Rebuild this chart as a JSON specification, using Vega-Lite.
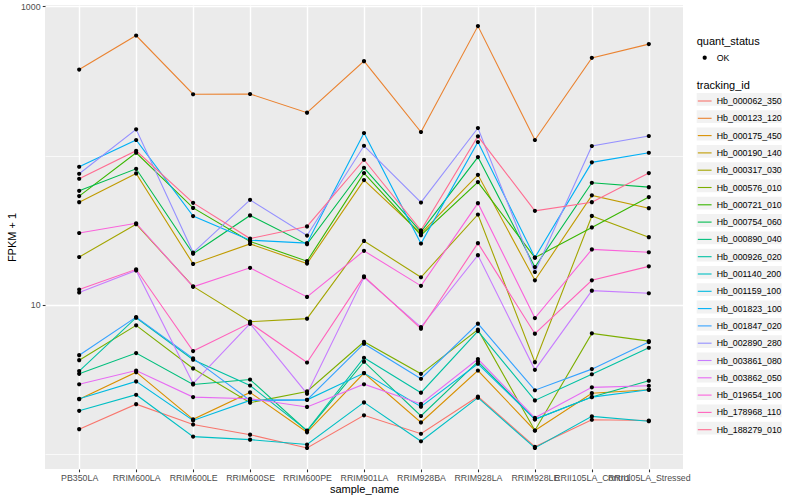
{
  "$schema": "https://vega.github.io/schema/vega-lite/v6.json",
  "width": 638,
  "height": 464,
  "autosize": {"type": "none"},
  "padding": {"left": 45, "top": 5, "right": 117, "bottom": 31},
  "background": "white",
  "config": {
    "font": "Liberation Sans",
    "view": {"fill": "#EBEBEB", "stroke": null},
    "axis": {
      "domain": false,
      "gridColor": "white",
      "gridWidth": 1.4,
      "tickColor": "#333333",
      "tickWidth": 1.07,
      "tickSize": 2.75,
      "labelFont": "Liberation Sans",
      "labelFontSize": 8.8,
      "labelColor": "#4D4D4D",
      "labelPadding": 2.2,
      "titleFont": "Liberation Sans",
      "titleFontSize": 11,
      "titleFontWeight": "normal",
      "titleColor": "black",
      "titlePadding": 2.75
    },
    "legend": {
      "orient": "none",
      "padding": 0,
      "rowPadding": 1,
      "titlePadding": 2.5,
      "labelOffset": 4,
      "symbolSize": 210,
      "titleFont": "Liberation Sans",
      "titleFontSize": 11,
      "titleFontWeight": "normal",
      "titleColor": "black",
      "labelFont": "Liberation Sans",
      "labelFontSize": 8.8,
      "labelColor": "black",
      "symbolOpacity": 1
    }
  },
  "data": {"values": [
    {"sample_name":"PB350LA","tracking_id":"Hb_000062_350","fpkm":1.47,"quant_status":"OK"},
    {"sample_name":"RRIM600LA","tracking_id":"Hb_000062_350","fpkm":2.16,"quant_status":"OK"},
    {"sample_name":"RRIM600LE","tracking_id":"Hb_000062_350","fpkm":1.58,"quant_status":"OK"},
    {"sample_name":"RRIM600SE","tracking_id":"Hb_000062_350","fpkm":1.35,"quant_status":"OK"},
    {"sample_name":"RRIM600PE","tracking_id":"Hb_000062_350","fpkm":1.10,"quant_status":"OK"},
    {"sample_name":"RRIM901LA","tracking_id":"Hb_000062_350","fpkm":1.82,"quant_status":"OK"},
    {"sample_name":"RRIM928BA","tracking_id":"Hb_000062_350","fpkm":1.37,"quant_status":"OK"},
    {"sample_name":"RRIM928LA","tracking_id":"Hb_000062_350","fpkm":2.43,"quant_status":"OK"},
    {"sample_name":"RRIM928LE","tracking_id":"Hb_000062_350","fpkm":1.12,"quant_status":"OK"},
    {"sample_name":"RRII105LA_Control","tracking_id":"Hb_000062_350","fpkm":1.70,"quant_status":"OK"},
    {"sample_name":"RRII105LA_Stressed","tracking_id":"Hb_000062_350","fpkm":1.68,"quant_status":"OK"},

    {"sample_name":"PB350LA","tracking_id":"Hb_000123_120","fpkm":376.5,"quant_status":"OK"},
    {"sample_name":"RRIM600LA","tracking_id":"Hb_000123_120","fpkm":636.8,"quant_status":"OK"},
    {"sample_name":"RRIM600LE","tracking_id":"Hb_000123_120","fpkm":257.5,"quant_status":"OK"},
    {"sample_name":"RRIM600SE","tracking_id":"Hb_000123_120","fpkm":258.5,"quant_status":"OK"},
    {"sample_name":"RRIM600PE","tracking_id":"Hb_000123_120","fpkm":193.7,"quant_status":"OK"},
    {"sample_name":"RRIM901LA","tracking_id":"Hb_000123_120","fpkm":428.7,"quant_status":"OK"},
    {"sample_name":"RRIM928BA","tracking_id":"Hb_000123_120","fpkm":143.8,"quant_status":"OK"},
    {"sample_name":"RRIM928LA","tracking_id":"Hb_000123_120","fpkm":736.4,"quant_status":"OK"},
    {"sample_name":"RRIM928LE","tracking_id":"Hb_000123_120","fpkm":127.1,"quant_status":"OK"},
    {"sample_name":"RRII105LA_Control","tracking_id":"Hb_000123_120","fpkm":451.1,"quant_status":"OK"},
    {"sample_name":"RRII105LA_Stressed","tracking_id":"Hb_000123_120","fpkm":557.6,"quant_status":"OK"},

    {"sample_name":"PB350LA","tracking_id":"Hb_000175_450","fpkm":2.33,"quant_status":"OK"},
    {"sample_name":"RRIM600LA","tracking_id":"Hb_000175_450","fpkm":3.54,"quant_status":"OK"},
    {"sample_name":"RRIM600LE","tracking_id":"Hb_000175_450","fpkm":1.71,"quant_status":"OK"},
    {"sample_name":"RRIM600SE","tracking_id":"Hb_000175_450","fpkm":2.59,"quant_status":"OK"},
    {"sample_name":"RRIM600PE","tracking_id":"Hb_000175_450","fpkm":1.40,"quant_status":"OK"},
    {"sample_name":"RRIM901LA","tracking_id":"Hb_000175_450","fpkm":3.49,"quant_status":"OK"},
    {"sample_name":"RRIM928BA","tracking_id":"Hb_000175_450","fpkm":1.63,"quant_status":"OK"},
    {"sample_name":"RRIM928LA","tracking_id":"Hb_000175_450","fpkm":3.63,"quant_status":"OK"},
    {"sample_name":"RRIM928LE","tracking_id":"Hb_000175_450","fpkm":1.44,"quant_status":"OK"},
    {"sample_name":"RRII105LA_Control","tracking_id":"Hb_000175_450","fpkm":2.56,"quant_status":"OK"},
    {"sample_name":"RRII105LA_Stressed","tracking_id":"Hb_000175_450","fpkm":2.70,"quant_status":"OK"},

    {"sample_name":"PB350LA","tracking_id":"Hb_000190_140","fpkm":48.7,"quant_status":"OK"},
    {"sample_name":"RRIM600LA","tracking_id":"Hb_000190_140","fpkm":75.9,"quant_status":"OK"},
    {"sample_name":"RRIM600LE","tracking_id":"Hb_000190_140","fpkm":18.8,"quant_status":"OK"},
    {"sample_name":"RRIM600SE","tracking_id":"Hb_000190_140","fpkm":25.6,"quant_status":"OK"},
    {"sample_name":"RRIM600PE","tracking_id":"Hb_000190_140","fpkm":18.9,"quant_status":"OK"},
    {"sample_name":"RRIM901LA","tracking_id":"Hb_000190_140","fpkm":68.5,"quant_status":"OK"},
    {"sample_name":"RRIM928BA","tracking_id":"Hb_000190_140","fpkm":30.1,"quant_status":"OK"},
    {"sample_name":"RRIM928LA","tracking_id":"Hb_000190_140","fpkm":74.3,"quant_status":"OK"},
    {"sample_name":"RRIM928LE","tracking_id":"Hb_000190_140","fpkm":14.6,"quant_status":"OK"},
    {"sample_name":"RRII105LA_Control","tracking_id":"Hb_000190_140","fpkm":54.1,"quant_status":"OK"},
    {"sample_name":"RRII105LA_Stressed","tracking_id":"Hb_000190_140","fpkm":44.4,"quant_status":"OK"},

    {"sample_name":"PB350LA","tracking_id":"Hb_000317_030","fpkm":20.9,"quant_status":"OK"},
    {"sample_name":"RRIM600LA","tracking_id":"Hb_000317_030","fpkm":34.7,"quant_status":"OK"},
    {"sample_name":"RRIM600LE","tracking_id":"Hb_000317_030","fpkm":13.3,"quant_status":"OK"},
    {"sample_name":"RRIM600SE","tracking_id":"Hb_000317_030","fpkm":7.71,"quant_status":"OK"},
    {"sample_name":"RRIM600PE","tracking_id":"Hb_000317_030","fpkm":8.08,"quant_status":"OK"},
    {"sample_name":"RRIM901LA","tracking_id":"Hb_000317_030","fpkm":26.8,"quant_status":"OK"},
    {"sample_name":"RRIM928BA","tracking_id":"Hb_000317_030","fpkm":15.3,"quant_status":"OK"},
    {"sample_name":"RRIM928LA","tracking_id":"Hb_000317_030","fpkm":40.3,"quant_status":"OK"},
    {"sample_name":"RRIM928LE","tracking_id":"Hb_000317_030","fpkm":4.13,"quant_status":"OK"},
    {"sample_name":"RRII105LA_Control","tracking_id":"Hb_000317_030","fpkm":39.4,"quant_status":"OK"},
    {"sample_name":"RRII105LA_Stressed","tracking_id":"Hb_000317_030","fpkm":28.4,"quant_status":"OK"},

    {"sample_name":"PB350LA","tracking_id":"Hb_000576_010","fpkm":4.26,"quant_status":"OK"},
    {"sample_name":"RRIM600LA","tracking_id":"Hb_000576_010","fpkm":7.29,"quant_status":"OK"},
    {"sample_name":"RRIM600LE","tracking_id":"Hb_000576_010","fpkm":3.75,"quant_status":"OK"},
    {"sample_name":"RRIM600SE","tracking_id":"Hb_000576_010","fpkm":2.21,"quant_status":"OK"},
    {"sample_name":"RRIM600PE","tracking_id":"Hb_000576_010","fpkm":2.63,"quant_status":"OK"},
    {"sample_name":"RRIM901LA","tracking_id":"Hb_000576_010","fpkm":5.66,"quant_status":"OK"},
    {"sample_name":"RRIM928BA","tracking_id":"Hb_000576_010","fpkm":3.45,"quant_status":"OK"},
    {"sample_name":"RRIM928LA","tracking_id":"Hb_000576_010","fpkm":6.82,"quant_status":"OK"},
    {"sample_name":"RRIM928LE","tracking_id":"Hb_000576_010","fpkm":1.44,"quant_status":"OK"},
    {"sample_name":"RRII105LA_Control","tracking_id":"Hb_000576_010","fpkm":6.44,"quant_status":"OK"},
    {"sample_name":"RRII105LA_Stressed","tracking_id":"Hb_000576_010","fpkm":5.71,"quant_status":"OK"},

    {"sample_name":"PB350LA","tracking_id":"Hb_000721_010","fpkm":53.5,"quant_status":"OK"},
    {"sample_name":"RRIM600LA","tracking_id":"Hb_000721_010","fpkm":104.4,"quant_status":"OK"},
    {"sample_name":"RRIM600LE","tracking_id":"Hb_000721_010","fpkm":44.6,"quant_status":"OK"},
    {"sample_name":"RRIM600SE","tracking_id":"Hb_000721_010","fpkm":26.6,"quant_status":"OK"},
    {"sample_name":"RRIM600PE","tracking_id":"Hb_000721_010","fpkm":19.6,"quant_status":"OK"},
    {"sample_name":"RRIM901LA","tracking_id":"Hb_000721_010","fpkm":76.3,"quant_status":"OK"},
    {"sample_name":"RRIM928BA","tracking_id":"Hb_000721_010","fpkm":29.3,"quant_status":"OK"},
    {"sample_name":"RRIM928LA","tracking_id":"Hb_000721_010","fpkm":66.4,"quant_status":"OK"},
    {"sample_name":"RRIM928LE","tracking_id":"Hb_000721_010","fpkm":20.7,"quant_status":"OK"},
    {"sample_name":"RRII105LA_Control","tracking_id":"Hb_000721_010","fpkm":33.0,"quant_status":"OK"},
    {"sample_name":"RRII105LA_Stressed","tracking_id":"Hb_000721_010","fpkm":52.7,"quant_status":"OK"},

    {"sample_name":"PB350LA","tracking_id":"Hb_000754_060","fpkm":58.0,"quant_status":"OK"},
    {"sample_name":"RRIM600LA","tracking_id":"Hb_000754_060","fpkm":81.5,"quant_status":"OK"},
    {"sample_name":"RRIM600LE","tracking_id":"Hb_000754_060","fpkm":22.0,"quant_status":"OK"},
    {"sample_name":"RRIM600SE","tracking_id":"Hb_000754_060","fpkm":39.7,"quant_status":"OK"},
    {"sample_name":"RRIM600PE","tracking_id":"Hb_000754_060","fpkm":25.5,"quant_status":"OK"},
    {"sample_name":"RRIM901LA","tracking_id":"Hb_000754_060","fpkm":82.8,"quant_status":"OK"},
    {"sample_name":"RRIM928BA","tracking_id":"Hb_000754_060","fpkm":30.8,"quant_status":"OK"},
    {"sample_name":"RRIM928LA","tracking_id":"Hb_000754_060","fpkm":97.7,"quant_status":"OK"},
    {"sample_name":"RRIM928LE","tracking_id":"Hb_000754_060","fpkm":17.9,"quant_status":"OK"},
    {"sample_name":"RRII105LA_Control","tracking_id":"Hb_000754_060","fpkm":65.7,"quant_status":"OK"},
    {"sample_name":"RRII105LA_Stressed","tracking_id":"Hb_000754_060","fpkm":61.4,"quant_status":"OK"},

    {"sample_name":"PB350LA","tracking_id":"Hb_000890_040","fpkm":3.45,"quant_status":"OK"},
    {"sample_name":"RRIM600LA","tracking_id":"Hb_000890_040","fpkm":4.75,"quant_status":"OK"},
    {"sample_name":"RRIM600LE","tracking_id":"Hb_000890_040","fpkm":2.93,"quant_status":"OK"},
    {"sample_name":"RRIM600SE","tracking_id":"Hb_000890_040","fpkm":3.16,"quant_status":"OK"},
    {"sample_name":"RRIM600PE","tracking_id":"Hb_000890_040","fpkm":1.43,"quant_status":"OK"},
    {"sample_name":"RRIM901LA","tracking_id":"Hb_000890_040","fpkm":4.16,"quant_status":"OK"},
    {"sample_name":"RRIM928BA","tracking_id":"Hb_000890_040","fpkm":1.80,"quant_status":"OK"},
    {"sample_name":"RRIM928LA","tracking_id":"Hb_000890_040","fpkm":4.16,"quant_status":"OK"},
    {"sample_name":"RRIM928LE","tracking_id":"Hb_000890_040","fpkm":1.71,"quant_status":"OK"},
    {"sample_name":"RRII105LA_Control","tracking_id":"Hb_000890_040","fpkm":2.41,"quant_status":"OK"},
    {"sample_name":"RRII105LA_Stressed","tracking_id":"Hb_000890_040","fpkm":3.10,"quant_status":"OK"},

    {"sample_name":"PB350LA","tracking_id":"Hb_000926_020","fpkm":3.60,"quant_status":"OK"},
    {"sample_name":"RRIM600LA","tracking_id":"Hb_000926_020","fpkm":8.20,"quant_status":"OK"},
    {"sample_name":"RRIM600LE","tracking_id":"Hb_000926_020","fpkm":4.29,"quant_status":"OK"},
    {"sample_name":"RRIM600SE","tracking_id":"Hb_000926_020","fpkm":2.88,"quant_status":"OK"},
    {"sample_name":"RRIM600PE","tracking_id":"Hb_000926_020","fpkm":1.44,"quant_status":"OK"},
    {"sample_name":"RRIM901LA","tracking_id":"Hb_000926_020","fpkm":4.42,"quant_status":"OK"},
    {"sample_name":"RRIM928BA","tracking_id":"Hb_000926_020","fpkm":2.58,"quant_status":"OK"},
    {"sample_name":"RRIM928LA","tracking_id":"Hb_000926_020","fpkm":6.67,"quant_status":"OK"},
    {"sample_name":"RRIM928LE","tracking_id":"Hb_000926_020","fpkm":2.29,"quant_status":"OK"},
    {"sample_name":"RRII105LA_Control","tracking_id":"Hb_000926_020","fpkm":3.43,"quant_status":"OK"},
    {"sample_name":"RRII105LA_Stressed","tracking_id":"Hb_000926_020","fpkm":5.16,"quant_status":"OK"},

    {"sample_name":"PB350LA","tracking_id":"Hb_001140_200","fpkm":1.95,"quant_status":"OK"},
    {"sample_name":"RRIM600LA","tracking_id":"Hb_001140_200","fpkm":2.50,"quant_status":"OK"},
    {"sample_name":"RRIM600LE","tracking_id":"Hb_001140_200","fpkm":1.31,"quant_status":"OK"},
    {"sample_name":"RRIM600SE","tracking_id":"Hb_001140_200","fpkm":1.25,"quant_status":"OK"},
    {"sample_name":"RRIM600PE","tracking_id":"Hb_001140_200","fpkm":1.16,"quant_status":"OK"},
    {"sample_name":"RRIM901LA","tracking_id":"Hb_001140_200","fpkm":2.22,"quant_status":"OK"},
    {"sample_name":"RRIM928BA","tracking_id":"Hb_001140_200","fpkm":1.22,"quant_status":"OK"},
    {"sample_name":"RRIM928LA","tracking_id":"Hb_001140_200","fpkm":2.39,"quant_status":"OK"},
    {"sample_name":"RRIM928LE","tracking_id":"Hb_001140_200","fpkm":1.10,"quant_status":"OK"},
    {"sample_name":"RRII105LA_Control","tracking_id":"Hb_001140_200","fpkm":1.79,"quant_status":"OK"},
    {"sample_name":"RRII105LA_Stressed","tracking_id":"Hb_001140_200","fpkm":1.66,"quant_status":"OK"},

    {"sample_name":"PB350LA","tracking_id":"Hb_001159_100","fpkm":2.35,"quant_status":"OK"},
    {"sample_name":"RRIM600LA","tracking_id":"Hb_001159_100","fpkm":3.07,"quant_status":"OK"},
    {"sample_name":"RRIM600LE","tracking_id":"Hb_001159_100","fpkm":1.68,"quant_status":"OK"},
    {"sample_name":"RRIM600SE","tracking_id":"Hb_001159_100","fpkm":2.29,"quant_status":"OK"},
    {"sample_name":"RRIM600PE","tracking_id":"Hb_001159_100","fpkm":2.31,"quant_status":"OK"},
    {"sample_name":"RRIM901LA","tracking_id":"Hb_001159_100","fpkm":3.49,"quant_status":"OK"},
    {"sample_name":"RRIM928BA","tracking_id":"Hb_001159_100","fpkm":2.08,"quant_status":"OK"},
    {"sample_name":"RRIM928LA","tracking_id":"Hb_001159_100","fpkm":4.03,"quant_status":"OK"},
    {"sample_name":"RRIM928LE","tracking_id":"Hb_001159_100","fpkm":1.71,"quant_status":"OK"},
    {"sample_name":"RRII105LA_Control","tracking_id":"Hb_001159_100","fpkm":2.41,"quant_status":"OK"},
    {"sample_name":"RRII105LA_Stressed","tracking_id":"Hb_001159_100","fpkm":2.70,"quant_status":"OK"},

    {"sample_name":"PB350LA","tracking_id":"Hb_001823_100","fpkm":84.1,"quant_status":"OK"},
    {"sample_name":"RRIM600LA","tracking_id":"Hb_001823_100","fpkm":127.1,"quant_status":"OK"},
    {"sample_name":"RRIM600LE","tracking_id":"Hb_001823_100","fpkm":39.3,"quant_status":"OK"},
    {"sample_name":"RRIM600SE","tracking_id":"Hb_001823_100","fpkm":27.1,"quant_status":"OK"},
    {"sample_name":"RRIM600PE","tracking_id":"Hb_001823_100","fpkm":25.9,"quant_status":"OK"},
    {"sample_name":"RRIM901LA","tracking_id":"Hb_001823_100","fpkm":141.6,"quant_status":"OK"},
    {"sample_name":"RRIM928BA","tracking_id":"Hb_001823_100","fpkm":25.75,"quant_status":"OK"},
    {"sample_name":"RRIM928LA","tracking_id":"Hb_001823_100","fpkm":123.2,"quant_status":"OK"},
    {"sample_name":"RRIM928LE","tracking_id":"Hb_001823_100","fpkm":20.74,"quant_status":"OK"},
    {"sample_name":"RRII105LA_Control","tracking_id":"Hb_001823_100","fpkm":90.0,"quant_status":"OK"},
    {"sample_name":"RRII105LA_Stressed","tracking_id":"Hb_001823_100","fpkm":104.4,"quant_status":"OK"},

    {"sample_name":"PB350LA","tracking_id":"Hb_001847_020","fpkm":4.60,"quant_status":"OK"},
    {"sample_name":"RRIM600LA","tracking_id":"Hb_001847_020","fpkm":8.28,"quant_status":"OK"},
    {"sample_name":"RRIM600LE","tracking_id":"Hb_001847_020","fpkm":4.38,"quant_status":"OK"},
    {"sample_name":"RRIM600SE","tracking_id":"Hb_001847_020","fpkm":2.29,"quant_status":"OK"},
    {"sample_name":"RRIM600PE","tracking_id":"Hb_001847_020","fpkm":2.31,"quant_status":"OK"},
    {"sample_name":"RRIM901LA","tracking_id":"Hb_001847_020","fpkm":5.49,"quant_status":"OK"},
    {"sample_name":"RRIM928BA","tracking_id":"Hb_001847_020","fpkm":3.20,"quant_status":"OK"},
    {"sample_name":"RRIM928LA","tracking_id":"Hb_001847_020","fpkm":7.48,"quant_status":"OK"},
    {"sample_name":"RRIM928LE","tracking_id":"Hb_001847_020","fpkm":2.68,"quant_status":"OK"},
    {"sample_name":"RRII105LA_Control","tracking_id":"Hb_001847_020","fpkm":3.71,"quant_status":"OK"},
    {"sample_name":"RRII105LA_Stressed","tracking_id":"Hb_001847_020","fpkm":5.63,"quant_status":"OK"},

    {"sample_name":"PB350LA","tracking_id":"Hb_002890_280","fpkm":75.5,"quant_status":"OK"},
    {"sample_name":"RRIM600LA","tracking_id":"Hb_002890_280","fpkm":149.9,"quant_status":"OK"},
    {"sample_name":"RRIM600LE","tracking_id":"Hb_002890_280","fpkm":22.4,"quant_status":"OK"},
    {"sample_name":"RRIM600SE","tracking_id":"Hb_002890_280","fpkm":50.5,"quant_status":"OK"},
    {"sample_name":"RRIM600PE","tracking_id":"Hb_002890_280","fpkm":29.1,"quant_status":"OK"},
    {"sample_name":"RRIM901LA","tracking_id":"Hb_002890_280","fpkm":116.3,"quant_status":"OK"},
    {"sample_name":"RRIM928BA","tracking_id":"Hb_002890_280","fpkm":48.5,"quant_status":"OK"},
    {"sample_name":"RRIM928LA","tracking_id":"Hb_002890_280","fpkm":152.9,"quant_status":"OK"},
    {"sample_name":"RRIM928LE","tracking_id":"Hb_002890_280","fpkm":16.6,"quant_status":"OK"},
    {"sample_name":"RRII105LA_Control","tracking_id":"Hb_002890_280","fpkm":115.8,"quant_status":"OK"},
    {"sample_name":"RRII105LA_Stressed","tracking_id":"Hb_002890_280","fpkm":135.2,"quant_status":"OK"},

    {"sample_name":"PB350LA","tracking_id":"Hb_003861_080","fpkm":12.1,"quant_status":"OK"},
    {"sample_name":"RRIM600LA","tracking_id":"Hb_003861_080","fpkm":17.0,"quant_status":"OK"},
    {"sample_name":"RRIM600LE","tracking_id":"Hb_003861_080","fpkm":2.97,"quant_status":"OK"},
    {"sample_name":"RRIM600SE","tracking_id":"Hb_003861_080","fpkm":7.48,"quant_status":"OK"},
    {"sample_name":"RRIM600PE","tracking_id":"Hb_003861_080","fpkm":2.54,"quant_status":"OK"},
    {"sample_name":"RRIM901LA","tracking_id":"Hb_003861_080","fpkm":15.3,"quant_status":"OK"},
    {"sample_name":"RRIM928BA","tracking_id":"Hb_003861_080","fpkm":7.10,"quant_status":"OK"},
    {"sample_name":"RRIM928LA","tracking_id":"Hb_003861_080","fpkm":21.5,"quant_status":"OK"},
    {"sample_name":"RRIM928LE","tracking_id":"Hb_003861_080","fpkm":3.67,"quant_status":"OK"},
    {"sample_name":"RRII105LA_Control","tracking_id":"Hb_003861_080","fpkm":12.45,"quant_status":"OK"},
    {"sample_name":"RRII105LA_Stressed","tracking_id":"Hb_003861_080","fpkm":11.95,"quant_status":"OK"},

    {"sample_name":"PB350LA","tracking_id":"Hb_003862_050","fpkm":2.94,"quant_status":"OK"},
    {"sample_name":"RRIM600LA","tracking_id":"Hb_003862_050","fpkm":3.63,"quant_status":"OK"},
    {"sample_name":"RRIM600LE","tracking_id":"Hb_003862_050","fpkm":2.41,"quant_status":"OK"},
    {"sample_name":"RRIM600SE","tracking_id":"Hb_003862_050","fpkm":2.35,"quant_status":"OK"},
    {"sample_name":"RRIM600PE","tracking_id":"Hb_003862_050","fpkm":2.07,"quant_status":"OK"},
    {"sample_name":"RRIM901LA","tracking_id":"Hb_003862_050","fpkm":2.94,"quant_status":"OK"},
    {"sample_name":"RRIM928BA","tracking_id":"Hb_003862_050","fpkm":2.17,"quant_status":"OK"},
    {"sample_name":"RRIM928LA","tracking_id":"Hb_003862_050","fpkm":4.33,"quant_status":"OK"},
    {"sample_name":"RRIM928LE","tracking_id":"Hb_003862_050","fpkm":1.75,"quant_status":"OK"},
    {"sample_name":"RRII105LA_Control","tracking_id":"Hb_003862_050","fpkm":2.80,"quant_status":"OK"},
    {"sample_name":"RRII105LA_Stressed","tracking_id":"Hb_003862_050","fpkm":2.87,"quant_status":"OK"},

    {"sample_name":"PB350LA","tracking_id":"Hb_019654_100","fpkm":30.3,"quant_status":"OK"},
    {"sample_name":"RRIM600LA","tracking_id":"Hb_019654_100","fpkm":35.2,"quant_status":"OK"},
    {"sample_name":"RRIM600LE","tracking_id":"Hb_019654_100","fpkm":13.2,"quant_status":"OK"},
    {"sample_name":"RRIM600SE","tracking_id":"Hb_019654_100","fpkm":17.7,"quant_status":"OK"},
    {"sample_name":"RRIM600PE","tracking_id":"Hb_019654_100","fpkm":11.3,"quant_status":"OK"},
    {"sample_name":"RRIM901LA","tracking_id":"Hb_019654_100","fpkm":23.0,"quant_status":"OK"},
    {"sample_name":"RRIM928BA","tracking_id":"Hb_019654_100","fpkm":13.4,"quant_status":"OK"},
    {"sample_name":"RRIM928LA","tracking_id":"Hb_019654_100","fpkm":48.0,"quant_status":"OK"},
    {"sample_name":"RRIM928LE","tracking_id":"Hb_019654_100","fpkm":8.15,"quant_status":"OK"},
    {"sample_name":"RRII105LA_Control","tracking_id":"Hb_019654_100","fpkm":23.5,"quant_status":"OK"},
    {"sample_name":"RRII105LA_Stressed","tracking_id":"Hb_019654_100","fpkm":22.5,"quant_status":"OK"},

    {"sample_name":"PB350LA","tracking_id":"Hb_178968_110","fpkm":12.65,"quant_status":"OK"},
    {"sample_name":"RRIM600LA","tracking_id":"Hb_178968_110","fpkm":17.3,"quant_status":"OK"},
    {"sample_name":"RRIM600LE","tracking_id":"Hb_178968_110","fpkm":4.90,"quant_status":"OK"},
    {"sample_name":"RRIM600SE","tracking_id":"Hb_178968_110","fpkm":7.55,"quant_status":"OK"},
    {"sample_name":"RRIM600PE","tracking_id":"Hb_178968_110","fpkm":4.11,"quant_status":"OK"},
    {"sample_name":"RRIM901LA","tracking_id":"Hb_178968_110","fpkm":15.5,"quant_status":"OK"},
    {"sample_name":"RRIM928BA","tracking_id":"Hb_178968_110","fpkm":6.92,"quant_status":"OK"},
    {"sample_name":"RRIM928LA","tracking_id":"Hb_178968_110","fpkm":25.9,"quant_status":"OK"},
    {"sample_name":"RRIM928LE","tracking_id":"Hb_178968_110","fpkm":6.41,"quant_status":"OK"},
    {"sample_name":"RRII105LA_Control","tracking_id":"Hb_178968_110","fpkm":14.6,"quant_status":"OK"},
    {"sample_name":"RRII105LA_Stressed","tracking_id":"Hb_178968_110","fpkm":18.1,"quant_status":"OK"},

    {"sample_name":"PB350LA","tracking_id":"Hb_188279_010","fpkm":69.9,"quant_status":"OK"},
    {"sample_name":"RRIM600LA","tracking_id":"Hb_188279_010","fpkm":107.7,"quant_status":"OK"},
    {"sample_name":"RRIM600LE","tracking_id":"Hb_188279_010","fpkm":48.2,"quant_status":"OK"},
    {"sample_name":"RRIM600SE","tracking_id":"Hb_188279_010","fpkm":27.8,"quant_status":"OK"},
    {"sample_name":"RRIM600PE","tracking_id":"Hb_188279_010","fpkm":33.5,"quant_status":"OK"},
    {"sample_name":"RRIM901LA","tracking_id":"Hb_188279_010","fpkm":93.7,"quant_status":"OK"},
    {"sample_name":"RRIM928BA","tracking_id":"Hb_188279_010","fpkm":31.6,"quant_status":"OK"},
    {"sample_name":"RRIM928LA","tracking_id":"Hb_188279_010","fpkm":134.5,"quant_status":"OK"},
    {"sample_name":"RRIM928LE","tracking_id":"Hb_188279_010","fpkm":42.6,"quant_status":"OK"},
    {"sample_name":"RRII105LA_Control","tracking_id":"Hb_188279_010","fpkm":48.7,"quant_status":"OK"},
    {"sample_name":"RRII105LA_Stressed","tracking_id":"Hb_188279_010","fpkm":76.3,"quant_status":"OK"}
  ]},
  "encoding": {
    "x": {
      "field": "sample_name",
      "type": "nominal",
      "sort": ["PB350LA","RRIM600LA","RRIM600LE","RRIM600SE","RRIM600PE","RRIM901LA","RRIM928BA","RRIM928LA","RRIM928LE","RRII105LA_Control","RRII105LA_Stressed"],
      "scale": {"type": "point", "padding": 0.6},
      "axis": {"title": "sample_name", "titlePadding": 0.75, "labelAngle": 0, "labelOverlap": false, "labelBound": false, "labelFlush": false, "grid": true, "zindex": 0}
    },
    "y": {
      "field": "fpkm",
      "type": "quantitative",
      "scale": {"type": "log", "domain": [0.795, 1019.5], "nice": false, "zero": false},
      "axis": {
        "title": "FPKM + 1",
        "values": [1, 10, 100, 1000],
        "labelExpr": "datum.value === 1000 ? '1000' : (datum.value === 10 ? '10' : '')",
        "labelOverlap": false,
        "labelBound": false,
        "labelFlush": false,
        "grid": true,
        "gridWidth": {"condition": {"test": "datum.value === 1 || datum.value === 100", "value": 0.7}, "value": 1.4},
        "tickOpacity": {"condition": {"test": "datum.value === 1 || datum.value === 100", "value": 0}, "value": 1},
        "zindex": 0
      }
    }
  },
  "layer": [
    {
      "mark": {"type": "line", "strokeWidth": 1.1},
      "encoding": {
        "stroke": {
          "field": "tracking_id",
          "type": "nominal",
          "scale": {
            "domain": ["Hb_000062_350","Hb_000123_120","Hb_000175_450","Hb_000190_140","Hb_000317_030","Hb_000576_010","Hb_000721_010","Hb_000754_060","Hb_000890_040","Hb_000926_020","Hb_001140_200","Hb_001159_100","Hb_001823_100","Hb_001847_020","Hb_002890_280","Hb_003861_080","Hb_003862_050","Hb_019654_100","Hb_178968_110","Hb_188279_010"],
            "range": ["#F8766D","#EA8331","#D89000","#C09B00","#A3A500","#7CAE00","#39B600","#00BB4E","#00BF7D","#00C1A3","#00BFC4","#00BAE0","#00B0F6","#35A2FF","#9590FF","#C77CFF","#E76BF3","#FA62DB","#FF62BC","#FF6C91"]
          },
          "legend": {
            "title": "tracking_id",
            "symbolType": "M-0.95,0H0.95",
            "symbolStrokeWidth": 1.1,
            "symbolSize": 210,
            "rowPadding": 4.3,
            "legendX": 651.7,
            "legendY": 74.5,
            "titlePadding": 2.5,
            "encode": {"entries": {"update": {"fill": {"value": "#F2F2F2"}, "width": {"value": 16.3}, "height": {"value": 16.3}}}}
          }
        }
      }
    },
    {
      "mark": {"type": "point", "filled": true, "color": "black", "size": 210, "opacity": 1},
      "encoding": {
        "shape": {
          "field": "quant_status",
          "type": "nominal",
          "scale": {"domain": ["OK"], "range": ["M-0.287,0A0.287,0.287,0,1,1,0.287,0A0.287,0.287,0,1,1,-0.287,0Z"]},
          "legend": {
            "title": "quant_status",
            "symbolSize": 210,
            "legendX": 651.7,
            "legendY": 30.7,
            "titlePadding": 3,
            "encode": {"entries": {"update": {"fill": {"value": "#F2F2F2"}, "width": {"value": 16.3}, "height": {"value": 16.3}}}}
          }
        }
      }
    }
  ]
}
